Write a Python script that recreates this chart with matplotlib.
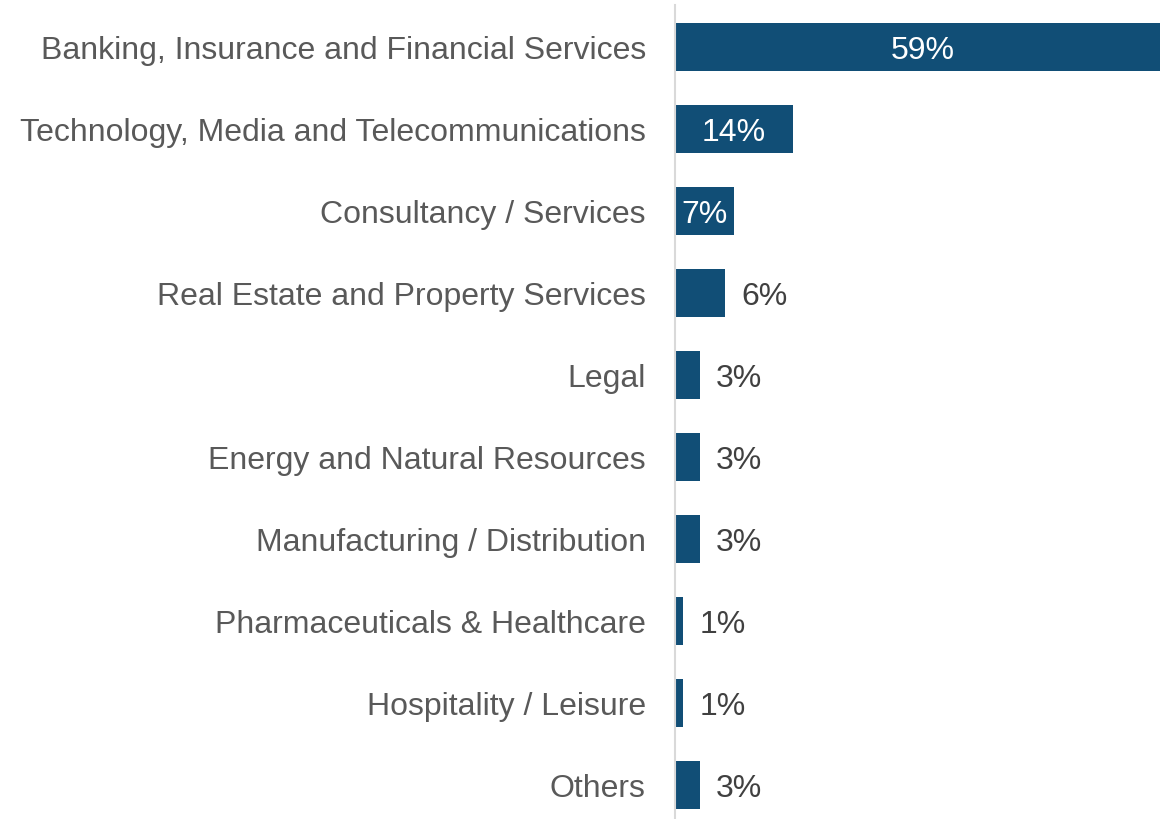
import matplotlib.pyplot as plt

plt.rcParams['font.family'] = ['Liberation Sans', 'DejaVu Sans']

sectors = [
    'Banking, Insurance and Financial Services',
    'Technology, Media and Telecommunications',
    'Consultancy / Services',
    'Real Estate and Property Services',
    'Legal',
    'Energy and Natural Resources',
    'Manufacturing / Distribution',
    'Pharmaceuticals & Healthcare',
    'Hospitality / Leisure',
    'Others',
]
shares = [59, 14, 7, 6, 3, 3, 3, 1, 1, 3]

bar_color = '#114E76'

fig = plt.figure(figsize=(11.6, 8.2), dpi=100)
ax = fig.add_axes([0.5819, -0.0085, 0.4181, 1.0006])

ypos = range(len(sectors))
ax.barh(ypos, shares, height=0.585, color=bar_color)

# big bars get the value inside, small ones just to the right
for y, v in zip(ypos, shares):
    if v >= 7:
        ax.annotate(f'{v}%', xy=(v / 2, y), xytext=(0, -2.5),
                    textcoords='offset points', ha='center', va='center',
                    color='white', fontsize=23)
    else:
        ax.annotate(f'{v}%', xy=(v, y), xytext=(11.5, -2.5),
                    textcoords='offset points', ha='left', va='center',
                    color='#404040', fontsize=23)

ax.set_xlim(0, 57.7)
ax.set_ylim(len(sectors) - 0.5, -0.5)
ax.set_yticks(list(ypos))
ax.set_yticklabels(sectors, fontsize=23, color='#595959')
ax.tick_params(axis='y', length=0, pad=21)
ax.set_xticks([])

for side in ['top', 'right', 'bottom']:
    ax.spines[side].set_visible(False)
ax.spines['left'].set_color('#D9D9D9')
ax.spines['left'].set_linewidth(1.5)

fig.savefig('out.png', dpi=100)
